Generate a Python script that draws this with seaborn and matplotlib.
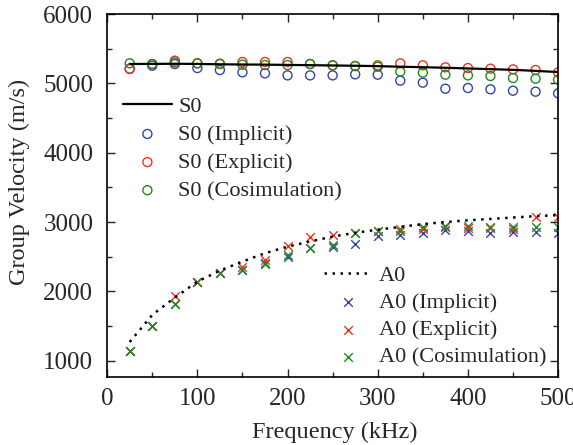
import matplotlib
matplotlib.use("Agg")
import matplotlib.pyplot as plt
import seaborn as sns
from matplotlib.ticker import MultipleLocator

# Frequency samples (kHz)
freq = [25, 50, 75, 100, 125, 150, 175, 200, 225, 250,
        275, 300, 325, 350, 375, 400, 425, 450, 475, 500]

# S0 mode group velocity (m/s)
s0_theory = [5280, 5280, 5283, 5280, 5275, 5272, 5270, 5266, 5262, 5258,
             5254, 5248, 5240, 5233, 5225, 5215, 5205, 5195, 5180, 5163]
s0_implicit = [5212, 5255, 5279, 5221, 5192, 5159, 5144, 5115, 5115, 5115,
               5130, 5125, 5039, 5010, 4923, 4933, 4914, 4894, 4880, 4856]
s0_explicit = [5207, 5279, 5327, 5289, 5284, 5308, 5308, 5308, 5279, 5260,
               5250, 5260, 5289, 5260, 5231, 5221, 5212, 5202, 5192, 5158]
s0_cosim = [5289, 5279, 5303, 5289, 5279, 5269, 5264, 5264, 5279, 5260,
            5250, 5240, 5168, 5154, 5125, 5115, 5106, 5077, 5067, 5053]

# A0 mode group velocity (m/s)
a0_theory = [1270, 1660, 1910, 2140, 2300, 2430, 2550, 2645, 2720, 2790,
             2845, 2890, 2930, 2970, 3000, 3025, 3045, 3065, 3085, 3100]
a0_implicit = [1140, 1501, 1823, 2140, 2260, 2309, 2405, 2491, 2621, 2635,
               2684, 2799, 2813, 2837, 2885, 2876, 2847, 2861, 2857, 2847]
a0_explicit = [1140, 1501, 1938, 2140, 2260, 2357, 2453, 2659, 2789, 2808,
               2847, 2876, 2895, 2905, 2924, 2919, 2914, 2895, 3078, 3068]
a0_cosim = [1140, 1501, 1823, 2140, 2260, 2309, 2395, 2525, 2621, 2664,
            2847, 2866, 2876, 2924, 2943, 2943, 2933, 2924, 2933, 2933]

blue = "#3344aa"
red = "#ee3322"
green = "#1e8c1e"

sns.set_style("ticks")
plt.rcParams["font.family"] = ["Liberation Serif", "DejaVu Serif"]
plt.rcParams["xtick.direction"] = "in"
plt.rcParams["ytick.direction"] = "in"

fig = plt.figure(figsize=(5.73, 4.45), dpi=100)
ax = fig.add_axes([0.187, 0.152, 0.787, 0.8165])

sns.lineplot(x=freq, y=s0_theory, ax=ax, color="black", lw=1.6, label="S0")
sns.scatterplot(x=freq, y=s0_implicit, ax=ax, marker="o", s=42,
                facecolors="none", edgecolor=blue, linewidth=1.0, label="S0 (Implicit)")
sns.scatterplot(x=freq, y=s0_explicit, ax=ax, marker="o", s=42,
                facecolors="none", edgecolor=red, linewidth=1.0, label="S0 (Explicit)")
sns.scatterplot(x=freq, y=s0_cosim, ax=ax, marker="o", s=42,
                facecolors="none", edgecolor=green, linewidth=1.0, label="S0 (Cosimulation)")

sns.lineplot(x=freq, y=a0_theory, ax=ax, color="black", lw=1.8,
             linestyle=(0, (1, 2.2)), label="A0")
sns.scatterplot(x=freq, y=a0_implicit, ax=ax, marker="x", s=38,
                color=blue, linewidth=1.0, label="A0 (Implicit)")
sns.scatterplot(x=freq, y=a0_explicit, ax=ax, marker="x", s=38,
                color=red, linewidth=1.0, label="A0 (Explicit)")
sns.scatterplot(x=freq, y=a0_cosim, ax=ax, marker="x", s=38,
                color=green, linewidth=1.0, label="A0 (Cosimulation)")

ax.set_xlim(0, 500)
ax.set_ylim(760, 6000)
ax.xaxis.set_major_locator(MultipleLocator(100))
ax.xaxis.set_minor_locator(MultipleLocator(50))
ax.yaxis.set_major_locator(MultipleLocator(1000))
ax.yaxis.set_minor_locator(MultipleLocator(500))
ax.tick_params(which="both", top=True, right=True, direction="in",
               labelsize=18, width=1.0)
ax.tick_params(which="major", length=6)
ax.tick_params(which="minor", length=3.5)
ax.tick_params(axis="x", which="major", pad=8)
ax.tick_params(axis="y", which="major", pad=10)
for sp in ax.spines.values():
    sp.set_linewidth(1.2)
    sp.set_color("black")

ax.set_xlabel("Frequency (kHz)", fontsize=17.5)
ax.set_ylabel("Group Velocity (m/s)", fontsize=17.5)
ax.xaxis.set_label_coords(0.504, -0.123)
ax.yaxis.set_label_coords(-0.171, 0.5375)

handles, labels = ax.get_legend_handles_labels()
if ax.get_legend():
    ax.get_legend().remove()

leg_kw = dict(frameon=False, fontsize=16, handlelength=2.2, handletextpad=0.3,
              borderpad=0, borderaxespad=0)
leg1 = ax.legend(handles[:4], labels[:4], loc="upper left", labelspacing=0.34,
                 bbox_to_anchor=(0.035, 0.774), **leg_kw)
ax.add_artist(leg1)
ax.legend(handles[4:], labels[4:], loc="upper left", labelspacing=0.3,
          bbox_to_anchor=(0.48, 0.308), **leg_kw)

fig.savefig("out.png", dpi=100)
